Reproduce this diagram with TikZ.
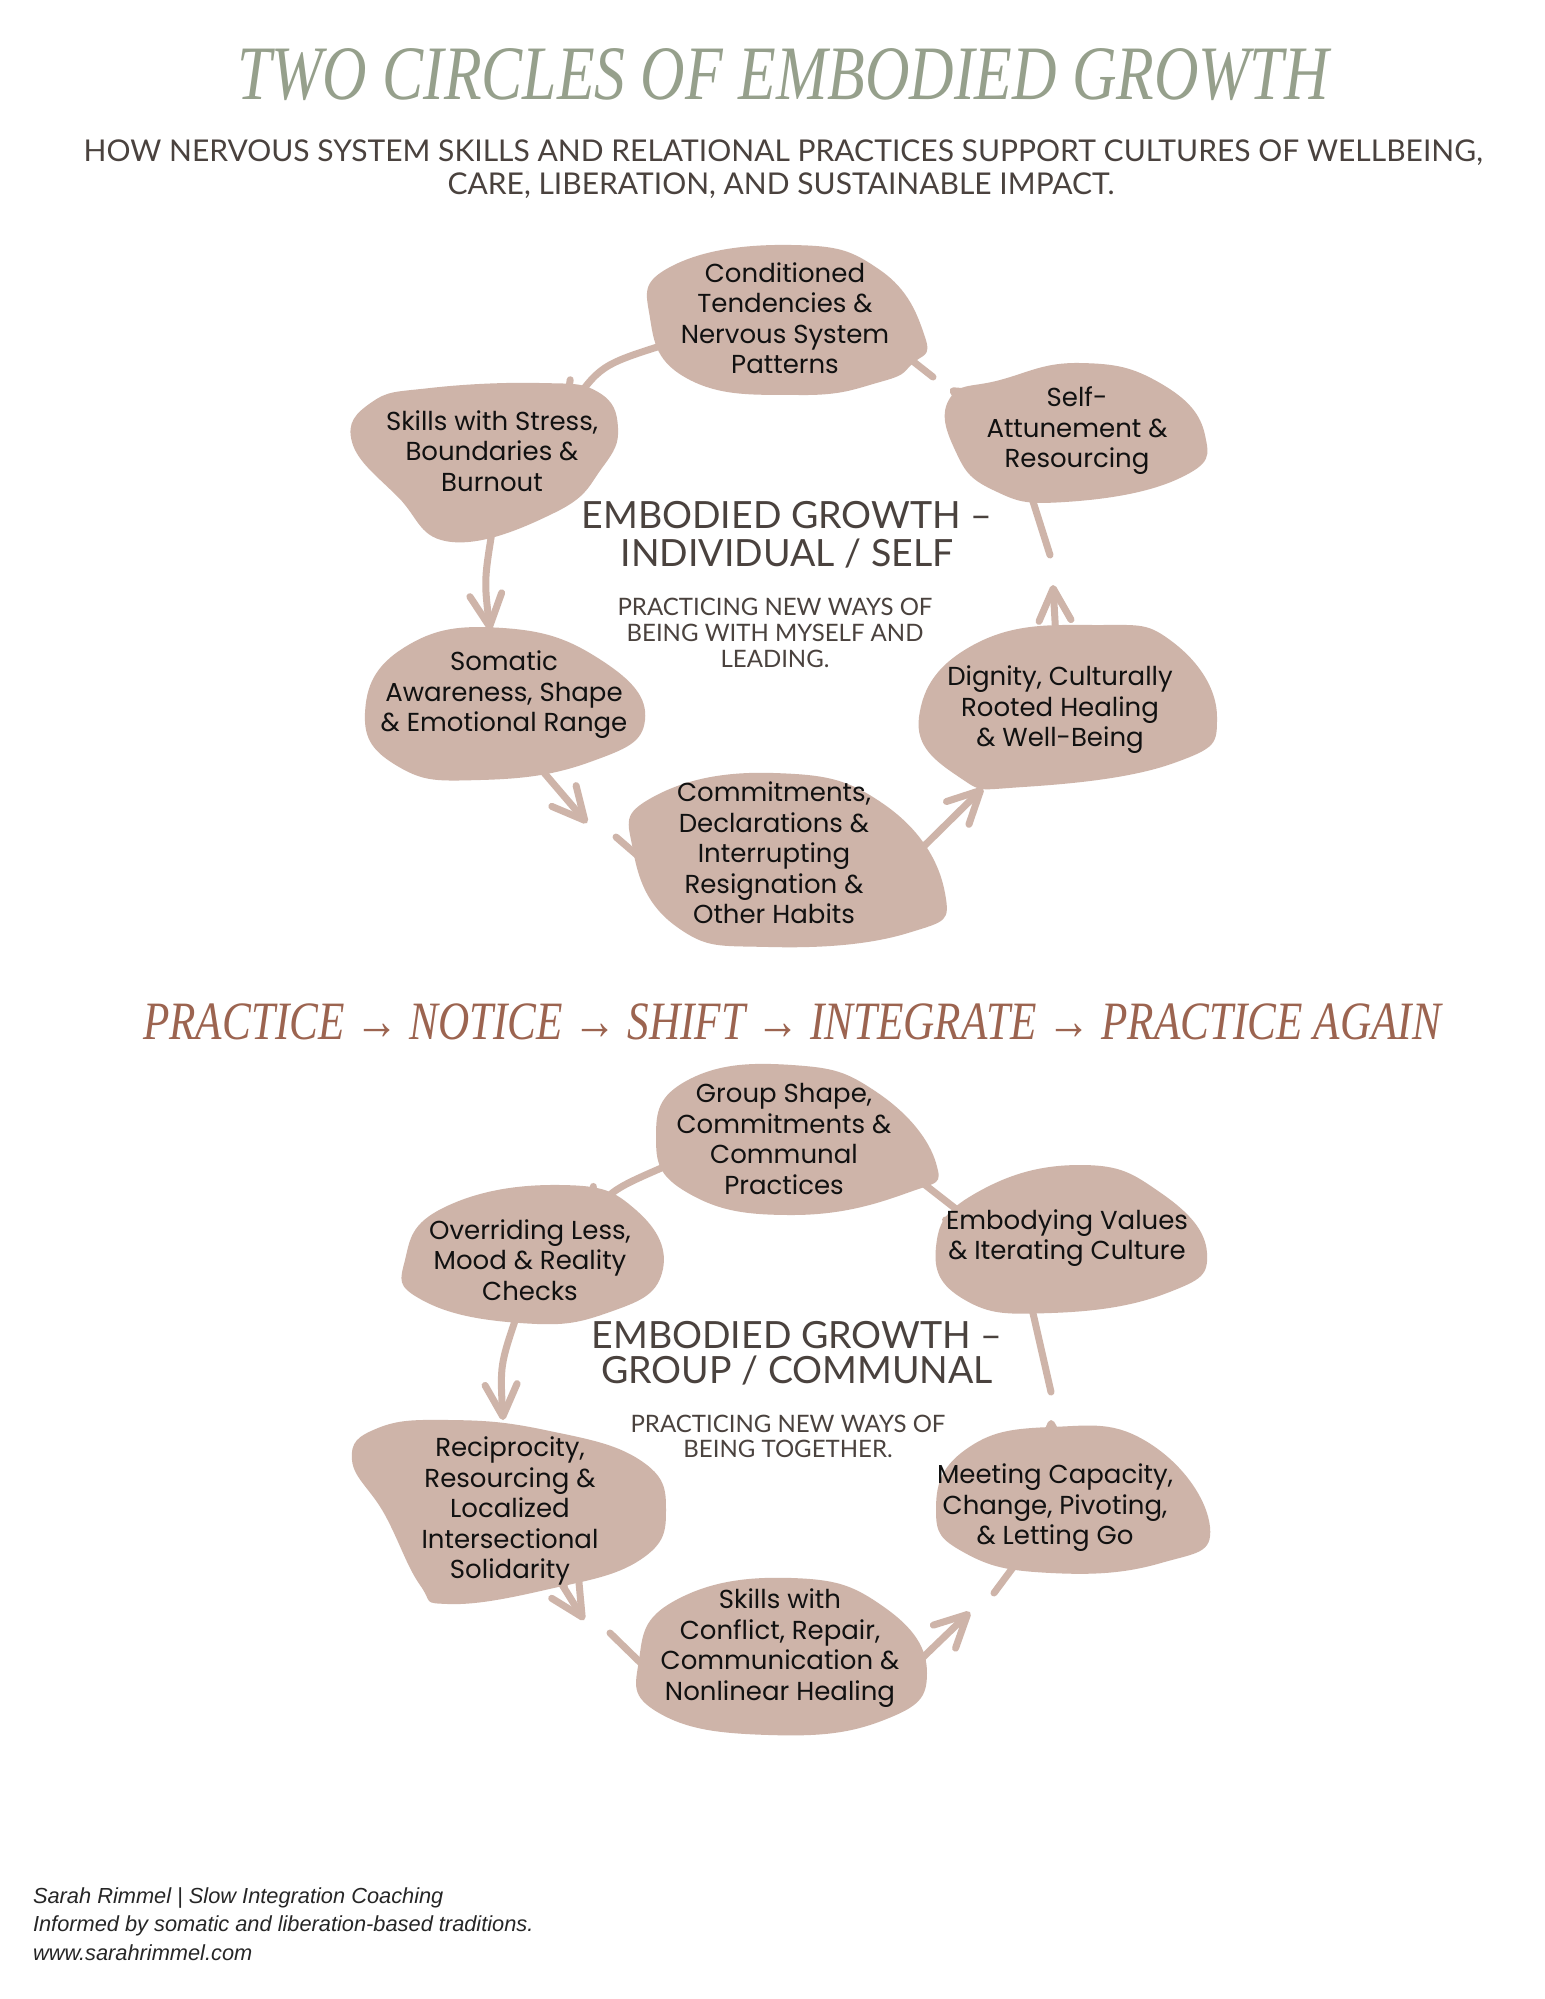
\documentclass[tikz,border=0pt]{standalone}
\usepackage{fontspec}
\setmainfont{Lato}
\newfontfamily\bubfont{Poppins}
\newfontfamily\titlefont[FakeStretch=0.80]{Liberation Serif}
\newfontfamily\practfont[FakeStretch=0.80]{Liberation Serif}
\newfontfamily\footfont{Liberation Sans}
\usetikzlibrary{arrows.meta}
\pgfdeclarelayer{arrowlayer}
\pgfdeclarelayer{bloblayer}
\pgfsetlayers{arrowlayer,bloblayer,main}
\definecolor{blobc}{RGB}{206,180,169}
\definecolor{titlec}{RGB}{150,160,140}
\definecolor{textc}{RGB}{74,66,62}
\definecolor{practc}{RGB}{156,100,80}
\definecolor{bubtext}{RGB}{17,17,17}
\tikzset{
  blob/.style={fill=blobc, draw=none},
  bub/.style={font=\bubfont\fontsize{13}{15.25}\selectfont, align=center, inner sep=0pt, text=bubtext},
  conn/.style={draw=blobc, line width=3.5pt, line cap=round, line join=round},
  arr/.style={conn, -{Straight Barb[length=16pt,width=16pt,round]}},
  heading/.style={anchor=base, text=textc, font=\fontsize{18.75}{22}\selectfont},
  smallcap/.style={anchor=base, text=textc, font=\fontsize{12}{14}\selectfont},
  subt/.style={anchor=base, text=textc, font=\fontsize{15}{18}\selectfont},
  foot/.style={anchor=base west, text=black!85, font=\footfont\itshape\fontsize{10.9}{12}\selectfont},
}
\begin{document}
\begin{tikzpicture}[x=0.5pt,y=-0.5pt]
\useasboundingbox (0,0) rectangle (1545,1999);
\begin{pgfonlayer}{arrowlayer}
\fill[white] (0,0) rectangle (1545,1999);
\end{pgfonlayer}

% ---------- header ----------
\node[anchor=base, text=titlec, font=\titlefont\itshape\fontsize{38.5}{40}\selectfont] (title) at (783,99) {TWO CIRCLES OF EMBODIED GROWTH};
\node[subt] (sub1) at (783,161) {HOW NERVOUS SYSTEM SKILLS AND RELATIONAL PRACTICES SUPPORT CULTURES OF WELLBEING,};
\node[subt] (sub2) at (781,194) {CARE, LIBERATION, AND SUSTAINABLE IMPACT.};

% ---------- upper circle text ----------
\node[bub] (A) at (785,318) {Conditioned\\Tendencies \&\\Nervous System\\Patterns};
\node[bub] (B) at (1077,431) {Self-\\Attunement \&\\Resourcing};
\node[bub] (C) at (492,451) {Skills with Stress,\\Boundaries \&\\Burnout};
\node[bub] (D) at (504,695) {Somatic\\Awareness, Shape\\\& Emotional Range};
\node[bub] (E) at (774,853) {Commitments,\\Declarations \&\\Interrupting\\Resignation \&\\Other Habits};
\node[bub] (F) at (1060,710) {Dignity, Culturally\\Rooted Healing\\\& Well-Being};

\node[heading] (h1a) at (787,528) {EMBODIED GROWTH –};
\node[heading] (h1b) at (787,566) {INDIVIDUAL / SELF};
\node[smallcap] (s1a) at (775,615) {PRACTICING NEW WAYS OF};
\node[smallcap] (s1b) at (775,641) {BEING WITH MYSELF AND};
\node[smallcap] (s1c) at (775,667) {LEADING.};

% ---------- practice line ----------
\node[anchor=base, text=practc, font=\practfont\itshape\fontsize{27}{30}\selectfont] (pr) at (792,1039) {PRACTICE → NOTICE → SHIFT → INTEGRATE → PRACTICE AGAIN};

% ---------- lower circle text ----------
\node[bub] (G) at (784,1139) {Group Shape,\\Commitments \&\\Communal\\Practices};
\node[bub] (H) at (1067,1238) {Embodying Values\\\& Iterating Culture};
\node[bub] (I) at (530,1260) {Overriding Less,\\Mood \& Reality\\Checks};
\node[bub] (J) at (510,1511) {Reciprocity,\\Resourcing \&\\Localized\\Intersectional\\Solidarity};
\node[bub] (K) at (1055,1508) {Meeting Capacity,\\Change, Pivoting,\\\& Letting Go};
\node[bub] (L) at (780,1648) {Skills with\\Conflict, Repair,\\Communication \&\\Nonlinear Healing};

\node[heading] (h2a) at (797,1348) {EMBODIED GROWTH –};
\node[heading] (h2b) at (797,1383) {GROUP / COMMUNAL};
\node[smallcap] (s2a) at (788,1432) {PRACTICING NEW WAYS OF};
\node[smallcap] (s2b) at (788,1457) {BEING TOGETHER.};

% ---------- footer ----------
\node[foot] (f1) at (26,1903) {Sarah Rimmel | Slow Integration Coaching};
\node[foot] (f2) at (26,1931) {Informed by somatic and liberation-based traditions.};
\node[foot] (f3) at (26,1960) {www.sarahrimmel.com};

% ---------- blobs ----------
\begin{pgfonlayer}{bloblayer}
\fill[blob] plot[smooth cycle, tension=0.8] coordinates {(792,245) (880,270) (925,337) (912,364) (880,382) (800,395) (690,380) (650,318) (672,266)};
\fill[blob] plot[smooth cycle, tension=0.8] coordinates {(1080,363) (1160,383) (1205,435) (1180,478) (1065,502) (993,490) (955,450) (950,398) (1000,380)};
\fill[blob] plot[smooth cycle, tension=0.75] coordinates {(372,402) (430,388) (540,383) (598,392) (618,428) (602,468) (556,512) (452,542) (398,497) (352,442)};
\fill[blob] plot[smooth cycle, tension=0.8] coordinates {(503,628) (601,660) (645,720) (590,762) (480,780) (399,767) (365,713) (405,647)};
\fill[blob] plot[smooth cycle, tension=0.8] coordinates {(774,773) (885,805) (945,893) (908,933) (769,947) (677,927) (633,850) (653,797)};
\fill[blob] plot[smooth cycle, tension=0.8] coordinates {(1098,625) (1174,643) (1217,717) (1174,763) (1023,787) (959,777) (919,717) (977,643)};
\fill[blob] plot[smooth cycle, tension=0.8] coordinates {(792,1065) (878,1093) (936,1163) (907,1193) (792,1215) (688,1193) (656,1137) (688,1080)};
\fill[blob] plot[smooth cycle, tension=0.8] coordinates {(1080,1165) (1161,1193) (1207,1253) (1167,1293) (1051,1313) (965,1300) (936,1247) (976,1193)};
\fill[blob] plot[smooth cycle, tension=0.8] coordinates {(561,1185) (636,1210) (662,1273) (607,1313) (520,1323) (422,1300) (405,1260) (445,1207)};
\fill[blob] plot[smooth cycle, tension=0.75] coordinates {(378,1428) (450,1420) (545,1430) (640,1460) (666,1510) (640,1560) (545,1590) (448,1604) (420,1585) (385,1515) (352,1460)};
\fill[blob] plot[smooth cycle, tension=0.8] coordinates {(1051,1427) (1149,1443) (1210,1527) (1161,1563) (1051,1573) (965,1553) (936,1510) (965,1450)};
\fill[blob] plot[smooth cycle, tension=0.8] coordinates {(792,1578) (884,1607) (927,1673) (884,1720) (769,1735) (659,1713) (639,1660) (676,1600)};
\end{pgfonlayer}

% ---------- connector coordinates ----------
\coordinate (bA0) at (985,410);  \coordinate (bA1) at (950,389);
\coordinate (bA2) at (933,377);  \coordinate (bA3) at (905,355);
\coordinate (cA0) at (670,343);  \coordinate (cA1) at (563,418);
\coordinate (dC0) at (494,520);  \coordinate (dC1) at (490,630);
\coordinate (eD0) at (540,768);  \coordinate (eD1) at (587,823);
\coordinate (eS1) at (616,837);  \coordinate (eS2) at (645,862);
\coordinate (fE0) at (915,855);  \coordinate (fE1) at (983,788);
\coordinate (bF1) at (1053,585); \coordinate (bF2) at (1050,555); \coordinate (bF3) at (1030,492);

\coordinate (gH1) at (1000,1228); \coordinate (gH2) at (956,1209); \coordinate (gH3) at (915,1177);
\coordinate (iG0) at (680,1160);  \coordinate (iG1) at (588,1225);
\coordinate (jI0) at (518,1312);  \coordinate (jI1) at (503,1420);
\coordinate (lJ0) at (553,1570);  \coordinate (lJ1) at (584,1620);
\coordinate (lS1) at (610,1633);  \coordinate (lS2) at (650,1672);
\coordinate (kL0) at (915,1665);  \coordinate (kL1) at (970,1612);
\coordinate (kS1) at (994,1593);  \coordinate (kS2) at (1020,1558);
\coordinate (hK1) at (1051,1420); \coordinate (hK2) at (1051,1392); \coordinate (hK3) at (1030,1300);

% ---------- connectors ----------
\begin{pgfonlayer}{arrowlayer}
% upper
\draw[arr] (B) -- (bA0) -- (bA1);
\draw[conn] (bA2) -- (bA3) -- (A);
\draw[arr] (A) -- (cA0) .. controls (600,365) .. (cA1);
\draw[arr] (C) -- (dC0) .. controls (484,580) .. (dC1);
\draw[arr] (D) -- (eD0) -- (eD1);
\draw[conn] (eS1) -- (eS2) -- (E);
\draw[arr] (E) -- (fE0) -- (fE1);
\draw[arr] (F) -- (bF1);
\draw[conn] (bF2) -- (bF3) -- (B);
% lower
\draw[arr] (H) -- (gH1);
\draw[conn] (gH2) -- (gH3) -- (G);
\draw[arr] (G) -- (iG0) .. controls (610,1190) .. (iG1);
\draw[arr] (I) -- (jI0) .. controls (500,1365) .. (jI1);
\draw[arr] (J) -- (lJ0) -- (lJ1);
\draw[conn] (lS1) -- (lS2) -- (L);
\draw[arr] (L) -- (kL0) -- (kL1);
\draw[conn] (kS1) -- (kS2) -- (K);
\draw[arr] (K) -- (hK1);
\draw[conn] (hK2) -- (hK3) -- (H);
\end{pgfonlayer}
\end{tikzpicture}
\end{document}
